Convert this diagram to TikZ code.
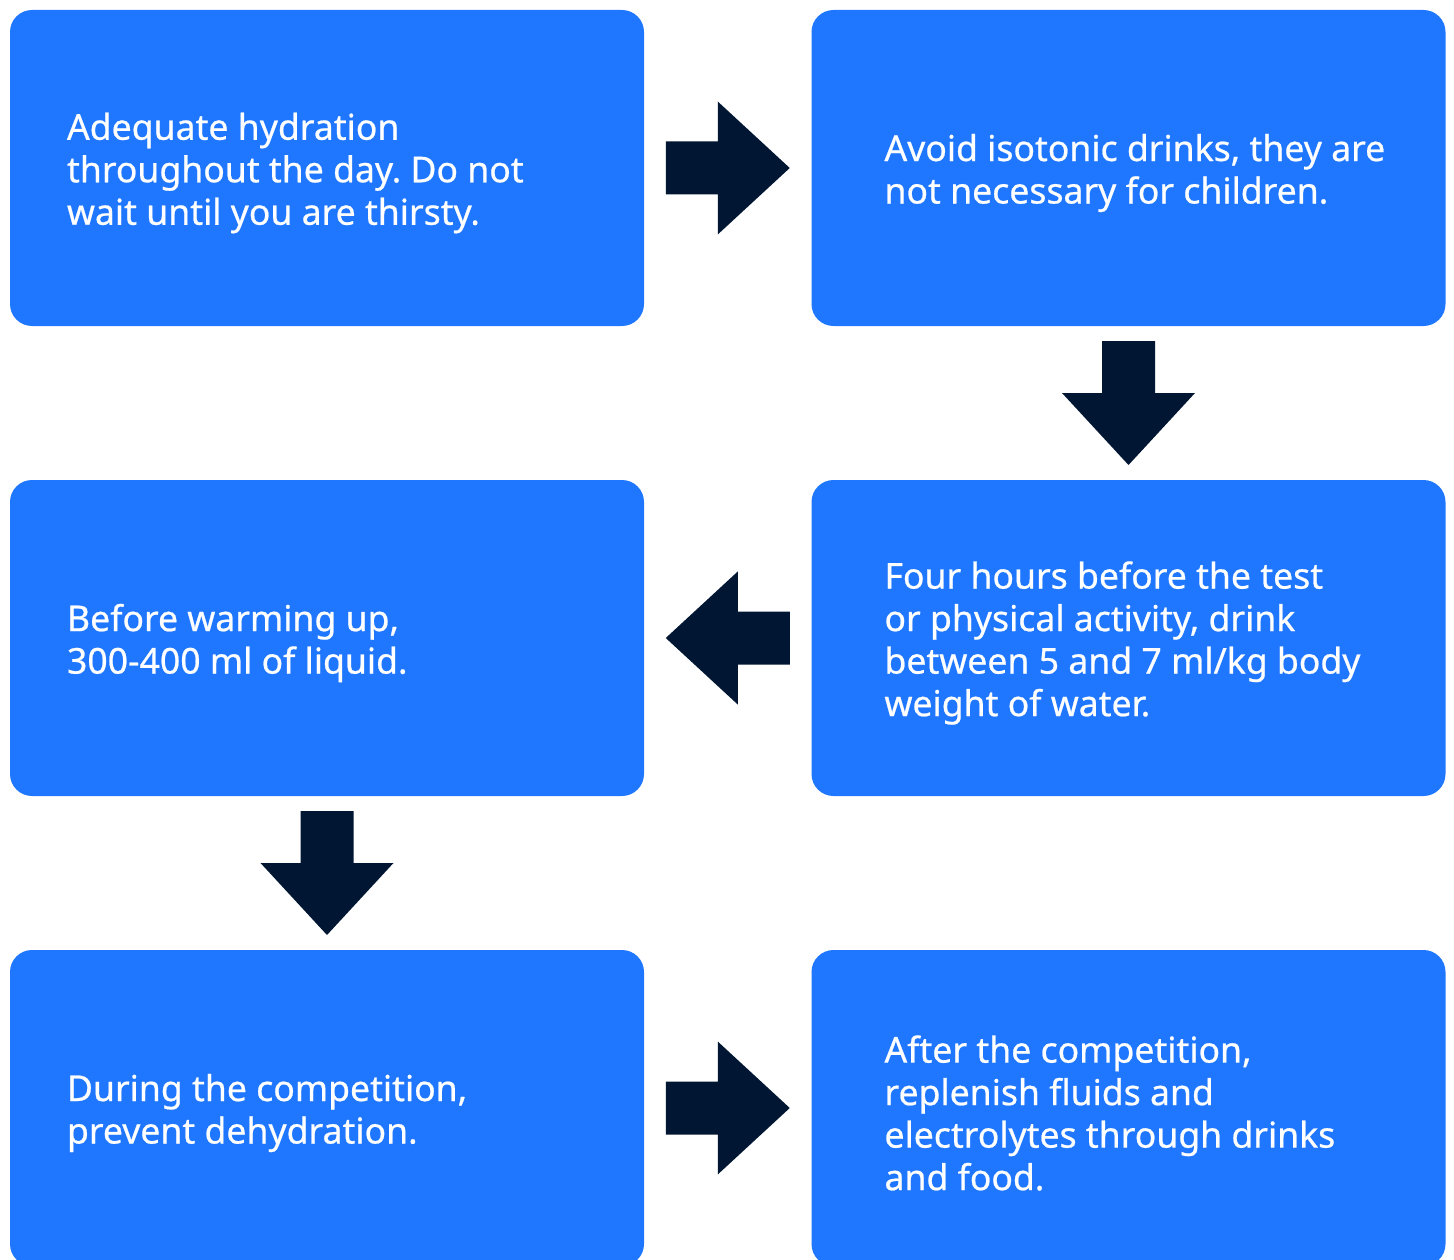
\documentclass[tikz,border=0pt]{standalone}
\usepackage{fontspec}
\setmainfont{Noto Sans}
\newfontfamily\stepfont[BoldFont={Noto Sans}, BoldFeatures={FakeBold=0.6}]{Noto Sans}
\usetikzlibrary{calc}
\frenchspacing

\definecolor{boxblue}{HTML}{1F77FF}
\definecolor{arrownavy}{HTML}{011632}

\tikzset{
    stepbox/.style={fill=boxblue, rounded corners=22pt, inner sep=0pt,
        minimum width=634pt, minimum height=316pt},
    steptext/.style={text=white, align=left, anchor=west, inner sep=0pt,
        yshift=-5pt, font=\stepfont\bfseries\fontsize{35.6}{42.5}\selectfont},
    blockarrow/.pic={
        \fill[arrownavy] (-62,-26.5) -- (-10,-26.5) -- (-10,-66.5) -- (62,0)
            -- (-10,66.5) -- (-10,26.5) -- (-62,26.5) -- cycle;
    }
}

\begin{document}
\begin{tikzpicture}[x=1pt, y=1pt]
    \useasboundingbox (0,0) rectangle (1454,-1260);
    \clip (0,0) rectangle (1454,-1260);

    % Cajas de los pasos
    \node[stepbox] (b1) at (327,-168) {};
    \node[stepbox] (b2) at (1128.5,-168) {};
    \node[stepbox] (b3) at (327,-638) {};
    \node[stepbox] (b4) at (1128.5,-638) {};
    \node[stepbox] (b5) at (327,-1108) {};
    \node[stepbox] (b6) at (1128.5,-1108) {};

    % Textos
    \node[steptext] (t1) at ($(b1.west)+(57,0)$)
        {Adequate hydration\\throughout the day. Do not\\wait until you are thirsty.};
    \node[steptext] (t2) at ($(b2.west)+(73,0)$)
        {Avoid isotonic drinks, they are\\not necessary for children.};
    \node[steptext] (t3) at ($(b3.west)+(57,0)$)
        {Before warming up,\\300-400 ml of liquid.};
    \node[steptext] (t4) at ($(b4.west)+(73,0)$)
        {Four hours before the test\\or physical activity, drink\\between 5 and 7 ml/kg body\\weight of water.};
    \node[steptext] (t5) at ($(b5.west)+(57,0)$)
        {During the competition,\\prevent dehydration.};
    \node[steptext] (t6) at ($(b6.west)+(73,0)$)
        {After the competition,\\replenish fluids and\\electrolytes through drinks\\and food.};

    % Flechas entre pasos
    \pic at ($(b1.east)!0.5!(b2.west)$) {blockarrow};
    \pic[rotate=-90] at ($(b2.south)!0.5!(b4.north)$) {blockarrow};
    \pic[rotate=180] at ($(b4.west)!0.5!(b3.east)$) {blockarrow};
    \pic[rotate=-90] at ($(b3.south)!0.5!(b5.north)$) {blockarrow};
    \pic at ($(b5.east)!0.5!(b6.west)$) {blockarrow};
\end{tikzpicture}
\end{document}
